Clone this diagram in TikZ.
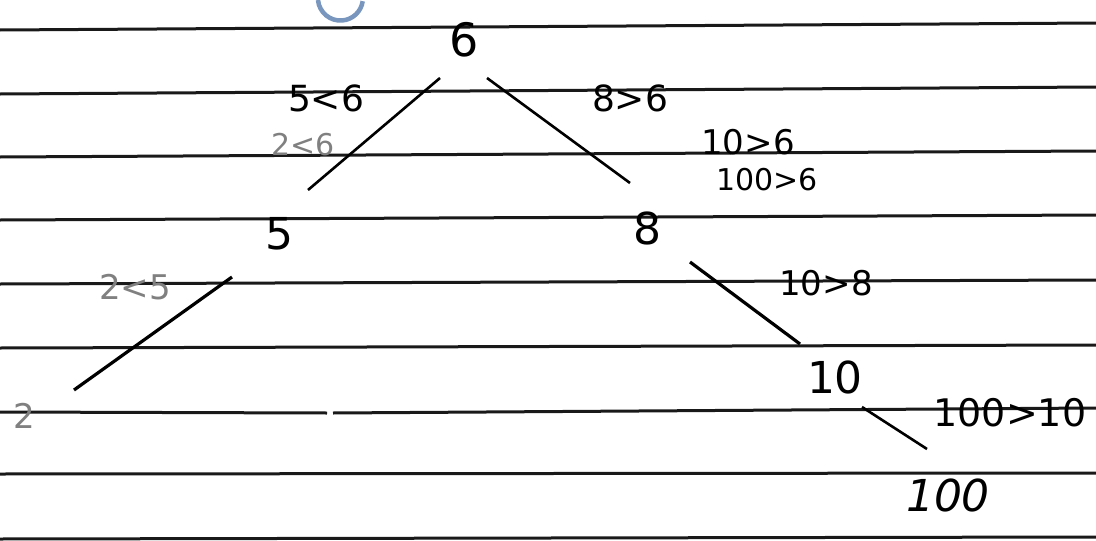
\documentclass[tikz,border=0pt]{standalone}
\usepackage{fontspec}
\setmainfont{DejaVu Sans}
\begin{document}
\begin{tikzpicture}[x=1pt,y=-1pt,
  rule/.style={line width=3pt,black!90},
  edge/.style={line width=2.6pt,black},
  num/.style={font=\fontsize{44}{44}\selectfont,inner sep=0pt},
  lab/.style={font=\fontsize{34}{34}\selectfont,inner sep=0pt},
  small/.style={font=\fontsize{30}{30}\selectfont,inner sep=0pt},
  faint/.style={text=black!50}]
\useasboundingbox (0,0) rectangle (1096,541);
\fill[white] (0,0) rectangle (1096,541);
% ruled lines
\draw[rule] (0,30) -- (1096,23);
\draw[rule] (0,94) -- (1096,87);
\draw[rule] (0,157) -- (1096,151);
\draw[rule] (0,220) -- (1096,215);
\draw[rule] (0,284) -- (1096,280);
\draw[rule] (0,348) -- (1096,345);
\draw[rule] (0,412) -- (327,413);
\draw[rule] (333,413) -- (1096,408);
\draw[rule] (0,474) -- (1096,473);
\draw[rule] (0,539) -- (1096,537);
% blue mark
\draw[line width=4.5pt,color={rgb,255:red,120;green,150;blue,190}] (318,0) arc[start angle=175,end angle=8,radius=22.5];
% nodes
\node[num,font=\fontsize{46}{46}\selectfont] (n6) at (464,40) {6};
\node[num] (n5) at (279,234) {5};
\node[num] (n8) at (647,228) {8};
\node[num] (n10) at (835,377) {10};
\node[num,font=\fontsize{44}{44}\selectfont\itshape] (n100) at (948,495) {100};
\node[lab,faint] (n2) at (24,416) {2};
% edge end points
\coordinate (a1) at (440,78);  \coordinate (b1) at (308,190);
\coordinate (a2) at (487,78);  \coordinate (b2) at (630,183);
\coordinate (a3) at (232,277); \coordinate (b3) at (74,390);
\coordinate (a4) at (690,262); \coordinate (b4) at (800,344);
\coordinate (a5) at (862,407); \coordinate (b5) at (927,449);
\draw[edge] (a1) -- (b1);
\draw[edge] (a2) -- (b2);
\draw[edge,line width=3.2pt] (a3) -- (b3);
\draw[edge,line width=3.2pt] (a4) -- (b4);
\draw[edge] (a5) -- (b5);
% labels
\node[lab,font=\fontsize{36}{36}\selectfont] (l1) at (326,98) {5<6};
\node[lab,faint,font=\fontsize{30}{30}\selectfont] (l2) at (303,145) {2<6};
\node[lab,font=\fontsize{36}{36}\selectfont] (l3) at (630,98) {8>6};
\node[lab] (l4) at (748,142) {10>6};
\node[small] (l5) at (767,180) {100>6};
\node[lab,faint] (l6) at (135,287) {2<5};
\node[lab] (l7) at (826,283) {10>8};
\node[lab,font=\fontsize{38}{38}\selectfont] (l8) at (1010,413) {100>10};
\end{tikzpicture}
\end{document}
